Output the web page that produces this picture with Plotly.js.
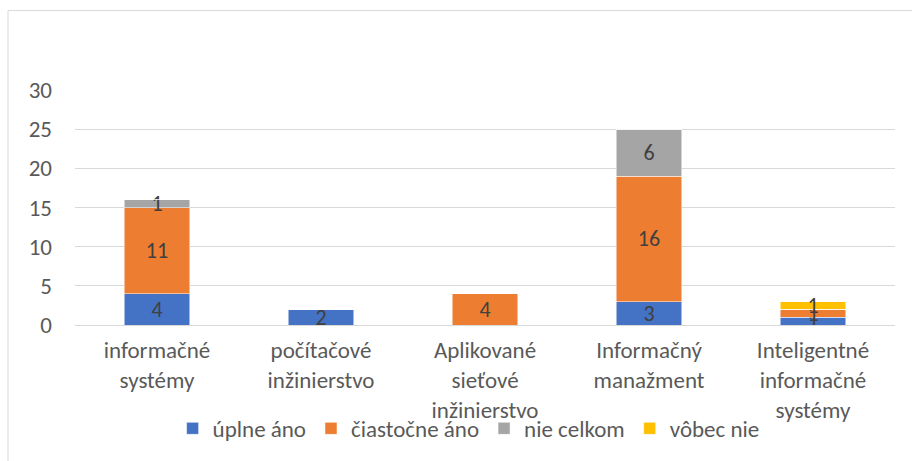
<!DOCTYPE html>
<html>
<head>
<meta charset="utf-8">
<script src="https://cdn.plot.ly/plotly-3.0.1.min.js"></script>
<style>
  html, body { margin: 0; padding: 0; background: #ffffff; }
  #chart { width: 912px; height: 461px; }
</style>
</head>
<body>
<div id="chart"></div>
<script>
const categories = [
  "informačné<br>systémy",
  "počítačové<br>inžinierstvo",
  "Aplikované<br>sieťové<br>inžinierstvo",
  "Informačný<br>manažment",
  "Inteligentné<br>informačné<br>systémy"
];
const seriesNames = ["úplne áno", "čiastočne áno", "nie celkom", "vôbec nie"];
const uplneAno     = [4, 2, 0, 3, 1];
const ciastocneAno = [11, 0, 4, 16, 1];
const nieCelkom    = [1, 0, 0, 6, 0];
const vobecNie     = [0, 0, 0, 0, 1];
const yTicks = [0, 5, 10, 15, 20, 25, 30];

const colors = ["#4472C4", "#ED7D31", "#A5A5A5", "#FFC000"];
const FONT = "Carlito, Calibri, Lato, sans-serif";
const allSeries = [uplneAno, ciastocneAno, nieCelkom, vobecNie];

const traces = allSeries.map((vals, i) => ({
  type: "bar",
  name: seriesNames[i],
  x: categories,
  y: vals,
  text: vals.map(v => v ? String(v) : ""),
  texttemplate: "%{text}",
  textposition: "inside",
  insidetextanchor: "middle",
  constraintext: "none",
  textangle: 0,
  insidetextfont: { family: FONT, size: 22, color: "#404040" },
  marker: { color: colors[i], line: { color: "#ffffff", width: 0.5 } },
  hoverinfo: "skip"
}));

const layout = {
  width: 912,
  height: 461,
  barmode: "stack",
  bargap: 0.6,
  paper_bgcolor: "#ffffff",
  plot_bgcolor: "#ffffff",
  font: { family: FONT, size: 23, color: "#595959" },
  margin: { l: 75, r: 17, t: 90, b: 136, autoexpand: false },
  showlegend: true,
  legend: {
    orientation: "h",
    x: 0.48, xanchor: "center",
    y: -0.44, yanchor: "middle",
    font: { family: FONT, size: 23, color: "#595959" },
    bgcolor: "rgba(0,0,0,0)",
    traceorder: "normal"
  },
  xaxis: {
    type: "category",
    showgrid: false,
    showline: false,
    ticks: "",
    ticklabelstandoff: 9,
    tickfont: { family: FONT, size: 23, color: "#595959" },
    fixedrange: true
  },
  yaxis: {
    range: [0, 30],
    tickvals: yTicks,
    ticktext: yTicks.map(String),
    showgrid: true,
    gridcolor: "#D9D9D9",
    gridwidth: 1,
    zeroline: true,
    zerolinecolor: "#D9D9D9",
    zerolinewidth: 1,
    showline: false,
    ticks: "",
    ticklabelstandoff: 22,
    tickfont: { family: FONT, size: 23, color: "#595959" },
    fixedrange: true
  },
  shapes: [
    { type: "line", xref: "paper", yref: "paper",
      x0: -0.0817, x1: -0.0817, y0: 1.338, y1: -0.6,
      line: { color: "#D9D9D9", width: 1 }, layer: "below" },
    { type: "line", xref: "paper", yref: "paper",
      x0: -0.0817, x1: 1.05, y0: 1.338, y1: 1.338,
      line: { color: "#D9D9D9", width: 1 }, layer: "below" }
  ],
  hovermode: false
};

Plotly.newPlot("chart", traces, layout, { displayModeBar: false, staticPlot: true });
</script>
</body>
</html>
